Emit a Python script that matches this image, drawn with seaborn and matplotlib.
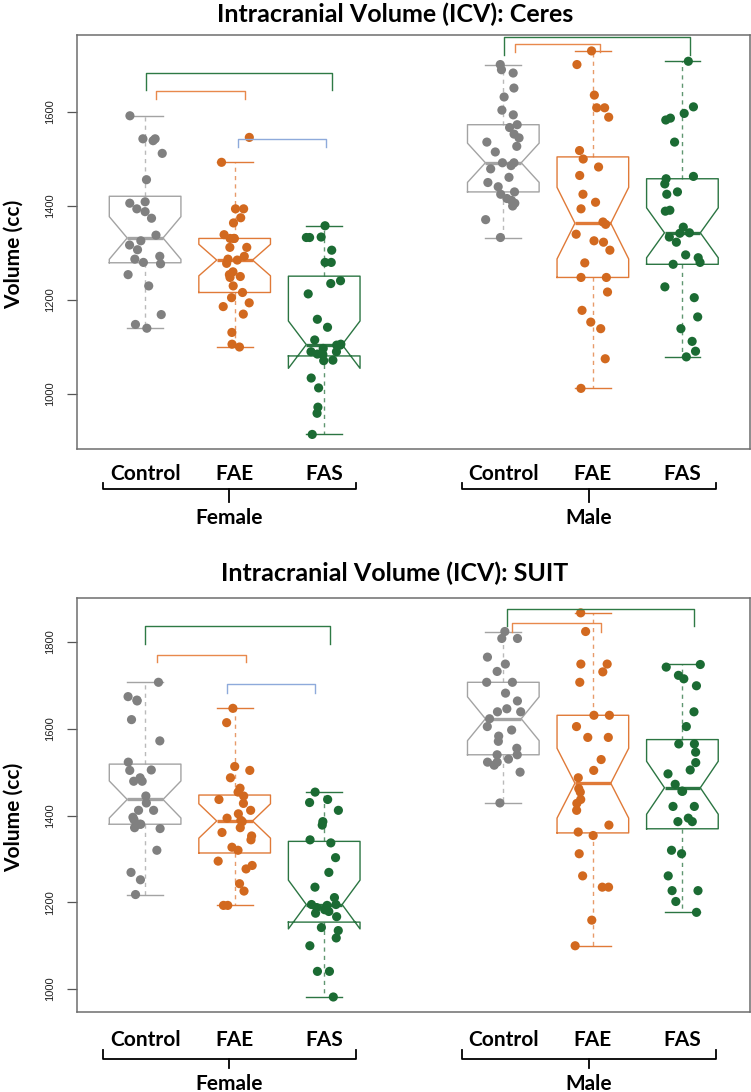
import numpy as np
import pandas as pd
import matplotlib
matplotlib.use('Agg')
import matplotlib.pyplot as plt
import matplotlib.transforms as mtransforms
import seaborn as sns

groups = ['Control', 'FAE', 'FAS']
slots = ['F-Control', 'F-FAE', 'F-FAS', 'gap', 'M-Control', 'M-FAE', 'M-FAS']
tick_pos = [0, 1, 2, 4, 5, 6]
sexes = ['Female', 'Male']

# ICV values (cc)
ceres_f_control = [1591, 1542, 1542, 1538, 1511, 1455, 1408, 1405, 1393, 1387, 1373, 1337,
                   1325, 1316, 1306, 1292, 1286, 1279, 1276, 1253, 1229, 1168, 1147, 1139]
ceres_f_fae = [1545, 1492, 1393, 1393, 1374, 1363, 1338, 1330, 1330, 1330, 1311, 1311, 1292,
               1286, 1284, 1277, 1259, 1253, 1249, 1247, 1229, 1215, 1204, 1193, 1185, 1169,
               1130, 1105, 1099]
ceres_f_fas = [1357, 1333, 1332, 1332, 1305, 1279, 1279, 1240, 1234, 1212, 1158, 1141, 1114,
               1105, 1103, 1103, 1096, 1089, 1089, 1084, 1083, 1071, 1070, 1033, 1012, 971,
               958, 913]
ceres_m_control = [1700, 1689, 1682, 1650, 1631, 1603, 1593, 1572, 1566, 1552, 1544, 1535,
                   1526, 1514, 1491, 1491, 1485, 1478, 1460, 1449, 1440, 1429, 1424, 1415,
                   1411, 1405, 1399, 1370, 1332]
ceres_m_fae = [1729, 1700, 1635, 1608, 1608, 1588, 1517, 1499, 1482, 1464, 1424, 1407, 1393,
               1365, 1360, 1339, 1325, 1322, 1305, 1278, 1247, 1247, 1216, 1177, 1152, 1138,
               1074, 1011]
ceres_m_fas = [1707, 1610, 1596, 1586, 1582, 1535, 1462, 1457, 1446, 1429, 1424, 1390, 1388,
               1354, 1342, 1341, 1333, 1322, 1295, 1289, 1279, 1275, 1227, 1204, 1163, 1138,
               1111, 1090, 1078]

suit_f_control = [1707, 1674, 1666, 1664, 1621, 1572, 1523, 1505, 1504, 1487, 1479, 1479,
                  1445, 1429, 1412, 1412, 1396, 1390, 1380, 1380, 1372, 1370, 1320, 1269,
                  1252, 1218]
suit_f_fae = [1647, 1614, 1513, 1504, 1487, 1463, 1454, 1445, 1437, 1428, 1412, 1404, 1394,
              1389, 1386, 1372, 1361, 1353, 1344, 1327, 1320, 1295, 1285, 1277, 1243, 1226,
              1193, 1193]
suit_f_fas = [1454, 1437, 1430, 1412, 1386, 1378, 1344, 1337, 1303, 1269, 1235, 1211, 1195,
              1195, 1193, 1188, 1183, 1179, 1175, 1167, 1142, 1135, 1118, 1100, 1041, 1041, 982]
suit_m_control = [1824, 1808, 1808, 1765, 1749, 1732, 1707, 1707, 1682, 1664, 1646, 1639,
                  1639, 1623, 1605, 1597, 1583, 1571, 1555, 1540, 1540, 1530, 1523, 1523,
                  1516, 1500, 1429]
suit_m_fae = [1867, 1824, 1749, 1749, 1731, 1707, 1631, 1631, 1605, 1580, 1580, 1529, 1504,
              1487, 1462, 1454, 1437, 1428, 1412, 1378, 1362, 1354, 1312, 1261, 1235, 1235,
              1159, 1100]
suit_m_fas = [1748, 1742, 1723, 1715, 1699, 1639, 1605, 1565, 1565, 1546, 1522, 1505, 1496,
              1472, 1456, 1456, 1421, 1421, 1394, 1386, 1386, 1320, 1312, 1261, 1227, 1227,
              1202, 1177]

# significance brackets: (from, to, top, leg end, colour key)
ceres_sig = [(0.01, 2.09, 1683, 1645, 'FAS'), (0.12, 1.11, 1643, 1627, 'FAE'),
             (1.04, 2.02, 1542, 1524, 'blue'), (4.01, 6.09, 1758, 1720, 'FAS'),
             (4.13, 5.08, 1743, 1726, 'FAE')]
suit_sig = [(0.0, 2.06, 1837, 1795, 'FAS'), (0.13, 1.13, 1771, 1753, 'FAE'),
            (0.92, 1.90, 1702, 1682, 'blue'), (4.04, 6.13, 1877, 1836, 'FAS'),
            (4.10, 5.09, 1843, 1824, 'FAE')]

pt_col = {'Control': '#808080', 'FAE': '#d2691f', 'FAS': '#1b6b33'}
box_col = {'Control': '#a3a3a3', 'FAE': '#e07a38', 'FAS': '#2b7542'}
sig_col = {'FAE': '#e8894c', 'FAS': '#2e7a45', 'blue': '#8eaadb'}

panels = [
    dict(title='Intracranial Volume (ICV): Ceres',
         data=[ceres_f_control, ceres_f_fae, ceres_f_fas, ceres_m_control, ceres_m_fae, ceres_m_fas],
         sig=ceres_sig, ylim=(881, 1763), yticks=[1000, 1200, 1400, 1600],
         rect=[0.102, 0.5884, 0.8961, 0.3796], lab_pad=22, grp=(-0.095, -0.080, -0.126, -0.18),
         title_y=1.031),
    dict(title='Intracranial Volume (ICV): SUIT',
         data=[suit_f_control, suit_f_fae, suit_f_fas, suit_m_control, suit_m_fae, suit_m_fas],
         sig=suit_sig, ylim=(948, 1901), yticks=[1000, 1200, 1400, 1600, 1800],
         rect=[0.102, 0.0735, 0.8961, 0.3788], lab_pad=24.7, grp=(-0.114, -0.0935, -0.136, -0.188),
         title_y=1.040),
]

bold_font = ['Lato', 'DejaVu Sans']
plt.rcParams['font.family'] = ['Liberation Sans', 'DejaVu Sans']

fig = plt.figure(figsize=(7.51, 10.92), dpi=100)
np.random.seed(7)

for p in panels:
    ax = fig.add_axes(p['rect'])
    rows = []
    for slot, vals in zip([s for s in slots if s != 'gap'], p['data']):
        for v in vals:
            rows.append({'slot': slot, 'group': slot.split('-')[1], 'volume': v})
    df = pd.DataFrame(rows)
    bpal = {s: box_col[s.split('-')[1]] for s in slots if s != 'gap'}
    ppal = {s: pt_col[s.split('-')[1]] for s in slots if s != 'gap'}

    sns.boxplot(data=df, x='slot', y='volume', hue='slot', order=slots, palette=bpal,
                fill=False, notch=True, width=0.8, showfliers=False, linewidth=1.0,
                whiskerprops=dict(linestyle=(0, (3, 3)), alpha=0.75),
                medianprops=dict(linewidth=2.4), legend=False, ax=ax)
    sns.stripplot(data=df, x='slot', y='volume', hue='slot', order=slots, palette=ppal,
                  jitter=0.2, size=6.6, linewidth=0, alpha=1, legend=False, ax=ax, zorder=5)

    for x0, x1, yt, yl, c in p['sig']:
        ax.plot([x0, x0, x1, x1], [yl, yt, yt, yl], color=sig_col[c], lw=1.0,
                clip_on=False, zorder=6)

    ax.set_xlim(-0.765, 6.75)
    ax.set_ylim(*p['ylim'])
    ax.set_yticks(p['yticks'])
    ax.set_yticklabels([str(t) for t in p['yticks']], rotation=90, va='center',
                       fontsize=8, color='#222222')
    ax.tick_params(axis='y', length=7.2, width=0.9, color='#555555', pad=8)
    ax.set_xticks(tick_pos)
    ax.set_xticklabels(groups * 2, fontsize=15, fontweight='bold', family=bold_font)
    for lab in ax.get_xticklabels():
        lab.set_va('baseline')
    ax.tick_params(axis='x', length=0, pad=p['lab_pad'])
    ax.set_xlabel('')
    ax.set_ylabel('Volume (cc)', fontsize=15, fontweight='bold', family=bold_font)
    ax.yaxis.set_label_coords(-0.079, 0.47)
    for sp in ax.spines.values():
        sp.set_color('#6e6e6e')
        sp.set_linewidth(1.1)

    # Female / Male group brackets under the tick labels
    trans = mtransforms.blended_transform_factory(ax.transData, ax.transAxes)
    yb, yup, ydn, ytxt = p['grp']
    for (xa, xb), name in zip([(-0.47, 2.35), (3.54, 6.37)], sexes):
        xm = (xa + xb) / 2
        ax.plot([xa, xa, xb, xb], [yup, yb, yb, yup], color='black', lw=1.3,
                transform=trans, clip_on=False)
        ax.plot([xm, xm], [yb, ydn], color='black', lw=1.3, transform=trans, clip_on=False)
        ax.text(xm, ytxt, name, transform=trans, ha='center', va='baseline',
                fontsize=15, fontweight='bold', family=bold_font)

    ax.text(0.473, p['title_y'], p['title'], transform=ax.transAxes, ha='center',
            va='baseline', fontsize=18, fontweight='bold', family=bold_font)

fig.savefig('out.png', dpi=100)
